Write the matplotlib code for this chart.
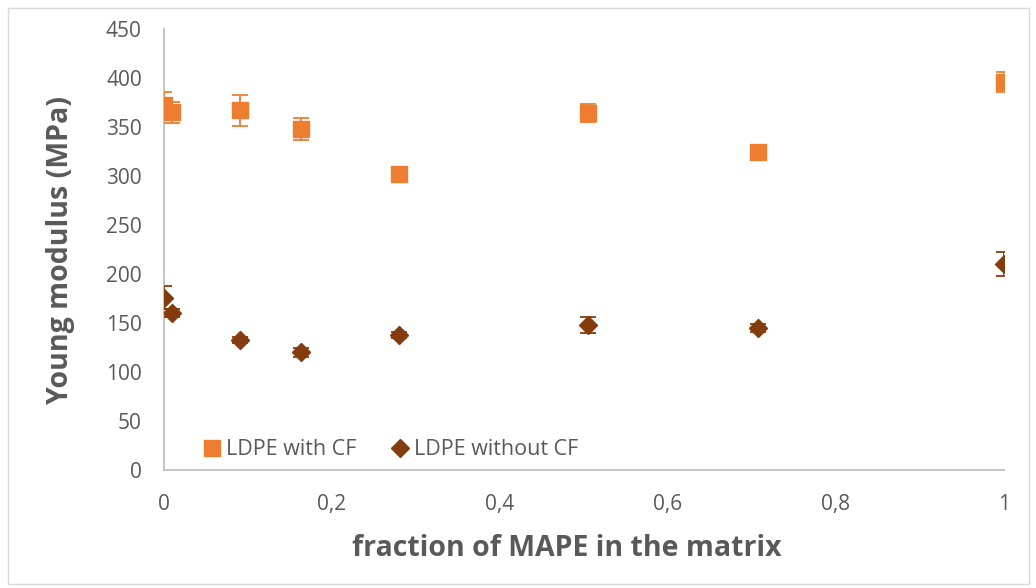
import matplotlib
matplotlib.use("Agg")
import matplotlib.pyplot as plt
from matplotlib.patches import Rectangle

plt.rcParams['font.family'] = ['Open Sans', 'DejaVu Sans']

# MAPE fraction in the matrix
fraction = [0, 0.01, 0.09, 0.163, 0.28, 0.505, 0.707, 1.0]

# Young modulus (MPa) and standard deviations
with_cf = [372, 365, 367, 348, 302, 364, 325, 396]
with_cf_err = [14, 11, 16, 11, 3, 9, 3, 10]
without_cf = [176, 160, 133, 120, 138, 148, 145, 210]
without_cf_err = [12, 4, 3, 5, 3, 8, 4, 12]

y_ticks = [0, 50, 100, 150, 200, 250, 300, 350, 400, 450]
x_ticks = [0, 0.2, 0.4, 0.6, 0.8, 1.0]
x_tick_labels = ["0", "0,2", "0,4", "0,6", "0,8", "1"]

orange = "#ED7D31"
brown = "#843C0C"
text_grey = "#595959"
axis_grey = "#BFBFBF"

fig = plt.figure(figsize=(10.36, 5.88), dpi=100)
fig.patches.append(Rectangle((8 / 1036, 4 / 588), 1021 / 1036, 576 / 588,
                             transform=fig.transFigure, fill=False,
                             edgecolor="#D9D9D9", linewidth=1.0))

ax = fig.add_axes([164 / 1036, 118 / 588, 840 / 1036, 441 / 588])

ax.errorbar(fraction, with_cf, yerr=with_cf_err, fmt="s", color=orange,
            markersize=11, capsize=6, elinewidth=1.3, capthick=1.3,
            label="LDPE with CF", zorder=3)
ax.errorbar(fraction, without_cf, yerr=without_cf_err, fmt="D", color=brown,
            markersize=9.5, capsize=6, elinewidth=1.3, capthick=1.3,
            label="LDPE without CF", zorder=3)

ax.set_xlim(0, 1.0)
ax.set_ylim(0, 450)
ax.set_yticks(y_ticks)
ax.set_xticks(x_ticks)
ax.set_xticklabels(x_tick_labels)
ax.tick_params(axis="both", length=0, labelsize=15, labelcolor=text_grey)
ax.tick_params(axis="y", pad=16)
ax.tick_params(axis="x", pad=17)

for side in ("top", "right"):
    ax.spines[side].set_visible(False)
for side in ("left", "bottom"):
    ax.spines[side].set_color(axis_grey)
    ax.spines[side].set_linewidth(1.3)

ax.set_xlabel("fraction of MAPE in the matrix", fontsize=20.5,
              fontweight="bold", color=text_grey, labelpad=14)
ax.xaxis.label.set_x(0.48)
ax.set_ylabel("Young modulus (MPa)", fontsize=20.5, fontweight="bold",
              color=text_grey, labelpad=22)

handles, labels = ax.get_legend_handles_labels()
handles = [h[0] for h in handles]
leg = ax.legend(handles, labels, loc="lower left", ncol=2, frameon=False,
                fontsize=15.5, handlelength=0.7, handletextpad=0.3,
                columnspacing=1.7, bbox_to_anchor=(0.025, -0.022))
for t in leg.get_texts():
    t.set_color(text_grey)

fig.savefig("out.png", dpi=100)
